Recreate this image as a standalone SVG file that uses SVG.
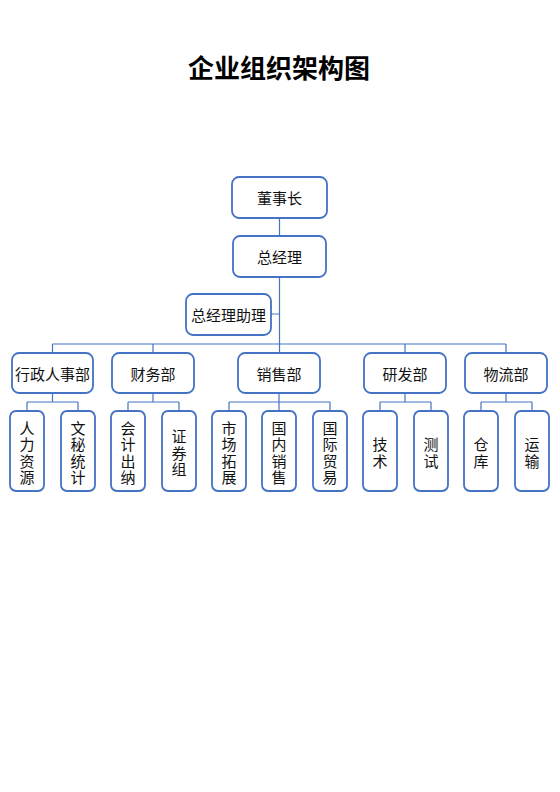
<svg xmlns="http://www.w3.org/2000/svg" width="560" height="792" viewBox="0 0 560 792">
<style>
.box{fill:#ffffff;stroke:#4472C4;stroke-width:1.8}
.t{font-family:"Noto Sans CJK SC","Liberation Sans",sans-serif;font-size:15px;fill:#111111;text-anchor:middle;dominant-baseline:central}
.v{font-family:"Noto Sans CJK SC","Liberation Sans",sans-serif;font-size:15px;fill:#111111;text-anchor:middle;dominant-baseline:central;writing-mode:vertical-rl;letter-spacing:1.2px}
.title{font-family:"Noto Sans CJK SC","Liberation Sans",sans-serif;font-size:26px;font-weight:bold;fill:#000000;text-anchor:middle;dominant-baseline:central}
.c{fill:none;stroke:#4472C4;stroke-width:1.2}
</style>
<rect width="560" height="792" fill="#ffffff"/>
<text class="title" x="279" y="66.5">企业组织架构图</text>
<g id="connectors" class="c">
<path d="M279.5,218V236M279.5,277V353M271,314H279.5"/>
<path d="M52.5,344H506M52.5,344V353M153,344V353M405,344V353M506,344V353"/>
<path d="M52.5,393V402M27,402H78M27,402V411M78,402V411"/>
<path d="M153,393V402M128,402H179M128,402V411M179,402V411"/>
<path d="M279,393V402M229,402H330M229,402V411M279,402V411M330,402V411"/>
<path d="M405,393V402M380,402H431M380,402V411M431,402V411"/>
<path d="M506,393V402M481,402H532M481,402V411M532,402V411"/>
</g>
<g id="n-chairman"><rect class="box" x="232" y="177" width="95" height="41" rx="7"/><text class="t" x="279.5" y="197.5">董事长</text></g>
<g id="n-gm"><rect class="box" x="233" y="236" width="93" height="41" rx="7"/><text class="t" x="279.5" y="256.5">总经理</text></g>
<g id="n-gma"><rect class="box" x="186" y="294" width="85" height="41" rx="7"/><text class="t" x="228.5" y="314.5">总经理助理</text></g>
<g id="n-hr"><rect class="box" x="12" y="353" width="81" height="40" rx="7"/><text class="t" x="52.5" y="373">行政人事部</text></g>
<g id="n-fin"><rect class="box" x="112" y="353" width="82" height="40" rx="7"/><text class="t" x="153" y="373">财务部</text></g>
<g id="n-sales"><rect class="box" x="238" y="353" width="82" height="40" rx="7"/><text class="t" x="279" y="373">销售部</text></g>
<g id="n-rd"><rect class="box" x="364" y="353" width="82" height="40" rx="7"/><text class="t" x="405" y="373">研发部</text></g>
<g id="n-log"><rect class="box" x="465" y="353" width="82" height="40" rx="7"/><text class="t" x="506" y="373">物流部</text></g>
<g id="n-hr1"><rect class="box" x="10" y="411" width="34" height="80" rx="6"/><text class="v" x="27" y="453.5">人力资源</text></g>
<g id="n-hr2"><rect class="box" x="61" y="411" width="34" height="80" rx="6"/><text class="v" x="78" y="453.5">文秘统计</text></g>
<g id="n-fin1"><rect class="box" x="111" y="411" width="34" height="80" rx="6"/><text class="v" x="128" y="453.5">会计出纳</text></g>
<g id="n-fin2"><rect class="box" x="162" y="411" width="34" height="80" rx="6"/><text class="v" x="179" y="453.5">证券组</text></g>
<g id="n-s1"><rect class="box" x="212" y="411" width="34" height="80" rx="6"/><text class="v" x="229" y="453.5">市场拓展</text></g>
<g id="n-s2"><rect class="box" x="262" y="411" width="34" height="80" rx="6"/><text class="v" x="279" y="453.5">国内销售</text></g>
<g id="n-s3"><rect class="box" x="313" y="411" width="34" height="80" rx="6"/><text class="v" x="330" y="453.5">国际贸易</text></g>
<g id="n-rd1"><rect class="box" x="363" y="411" width="34" height="80" rx="6"/><text class="v" x="380" y="453.5">技术</text></g>
<g id="n-rd2"><rect class="box" x="414" y="411" width="34" height="80" rx="6"/><text class="v" x="431" y="453.5">测试</text></g>
<g id="n-l1"><rect class="box" x="464" y="411" width="34" height="80" rx="6"/><text class="v" x="481" y="453.5">仓库</text></g>
<g id="n-l2"><rect class="box" x="515" y="411" width="34" height="80" rx="6"/><text class="v" x="532" y="453.5">运输</text></g>
</svg>
